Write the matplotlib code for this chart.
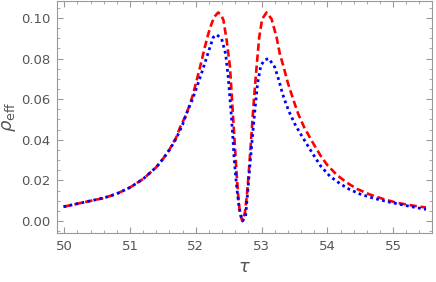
"""Two-curve rho_eff vs tau plot, Mathematica-style frame."""
import matplotlib
matplotlib.use("Agg")
import matplotlib.pyplot as plt
from matplotlib.ticker import MultipleLocator

# red dashed curve
tau_red = [49.99, 50.2, 50.4, 50.6, 50.8, 51.0, 51.2, 51.4, 51.5, 51.6,
           51.7, 51.76, 51.84, 51.9, 51.95, 52.02, 52.09, 52.14, 52.19, 52.22,
           52.28, 52.34, 52.38, 52.42, 52.47, 52.52, 52.545, 52.57, 52.595, 52.62,
           52.645, 52.67, 52.706, 52.747, 52.781, 52.812, 52.848, 52.883, 52.924, 52.964,
           53.009, 53.076, 53.152, 53.228, 53.278, 53.33, 53.40, 53.48, 53.56, 53.65,
           53.78, 53.90, 54.00, 54.15, 54.30, 54.45, 54.64, 54.85, 55.05, 55.25,
           55.50]
rho_red = [0.0070, 0.0085, 0.0099, 0.0113, 0.0134, 0.0165, 0.0207, 0.0265, 0.0305, 0.0352,
           0.0410, 0.0460, 0.0515, 0.0565, 0.0615, 0.0700, 0.0791, 0.0860, 0.0921, 0.0954,
           0.1005, 0.1027, 0.1018, 0.0990, 0.0889, 0.0758, 0.0628, 0.0497, 0.0367, 0.0237,
           0.0122, 0.0041, 0.0000, 0.0041, 0.0139, 0.0269, 0.0432, 0.0595, 0.0758, 0.0905,
           0.0995, 0.1027, 0.0995, 0.0905, 0.0823, 0.0765, 0.0680, 0.0600, 0.0525, 0.0460,
           0.0385, 0.0320, 0.0275, 0.0225, 0.0188, 0.0158, 0.0131, 0.0108, 0.0090, 0.0078,
           0.0066]

# blue dotted curve
tau_blue = [49.99, 50.2, 50.4, 50.6, 50.8, 51.0, 51.2, 51.4, 51.5, 51.6,
            51.7, 51.8, 51.86, 51.95, 52.01, 52.08, 52.14, 52.215, 52.266, 52.317,
            52.393, 52.454, 52.493, 52.53, 52.56, 52.584, 52.621, 52.656, 52.697, 52.712,
            52.757, 52.788, 52.822, 52.857, 52.898, 52.939, 52.989, 53.05, 53.11, 53.20,
            53.263, 53.32, 53.38, 53.43, 53.51, 53.60, 53.78, 53.90, 54.04, 54.20,
            54.34, 54.50, 54.69, 54.90, 55.10, 55.30, 55.50]
rho_blue = [0.0070, 0.0085, 0.0099, 0.0113, 0.0134, 0.0165, 0.0207, 0.0265, 0.0305, 0.0350,
            0.0405, 0.0475, 0.0530, 0.0600, 0.0655, 0.0720, 0.0780, 0.0856, 0.0905, 0.0918,
            0.0897, 0.0823, 0.0709, 0.0562, 0.0432, 0.0302, 0.0171, 0.0073, 0.0008, 0.0000,
            0.0024, 0.0139, 0.0269, 0.0400, 0.0546, 0.0677, 0.0766, 0.0794, 0.0800, 0.0758,
            0.0693, 0.0625, 0.0570, 0.0530, 0.0475, 0.0425, 0.0330, 0.0270, 0.0220, 0.0182,
            0.0155, 0.0132, 0.0113, 0.0096, 0.0082, 0.0069, 0.0057]

fig = plt.figure(figsize=(4.36, 2.82), dpi=100)
ax = fig.add_axes([0.1307, 0.174, 0.860, 0.822])

ax.plot(tau_red, rho_red, color="#ff0000", linestyle=(0, (2.8, 1.4)), linewidth=1.9,
        solid_joinstyle="round", dash_joinstyle="round")
ax.plot(tau_blue, rho_blue, color="#0000ff", linestyle=(0, (1, 1.2)), linewidth=2.0,
        dash_joinstyle="round")

ax.set_xlim(49.89, 55.59)
ax.set_ylim(-0.0059, 0.1083)

ax.xaxis.set_major_locator(MultipleLocator(1))
ax.xaxis.set_minor_locator(MultipleLocator(0.2))
ax.yaxis.set_major_locator(MultipleLocator(0.02))
ax.yaxis.set_minor_locator(MultipleLocator(0.005))
ax.yaxis.set_major_formatter(lambda v, p: f"{v:.2f}")

gray = "#999999"
for s in ax.spines.values():
    s.set_color(gray)
    s.set_linewidth(0.8)
ax.tick_params(which="both", direction="in", top=True, right=True,
               color=gray, labelcolor="#555555", labelsize=9.5)
ax.tick_params(which="major", length=4.5, width=0.8, pad=5)
ax.tick_params(which="minor", length=2.5, width=0.6)

ax.set_xlabel(r"$\tau$", fontsize=13, color="#555555", labelpad=4)
ax.set_ylabel(r"$\rho_{\rm eff}$", fontsize=13, color="#555555", labelpad=2)

plt.savefig("out.png", dpi=100)
